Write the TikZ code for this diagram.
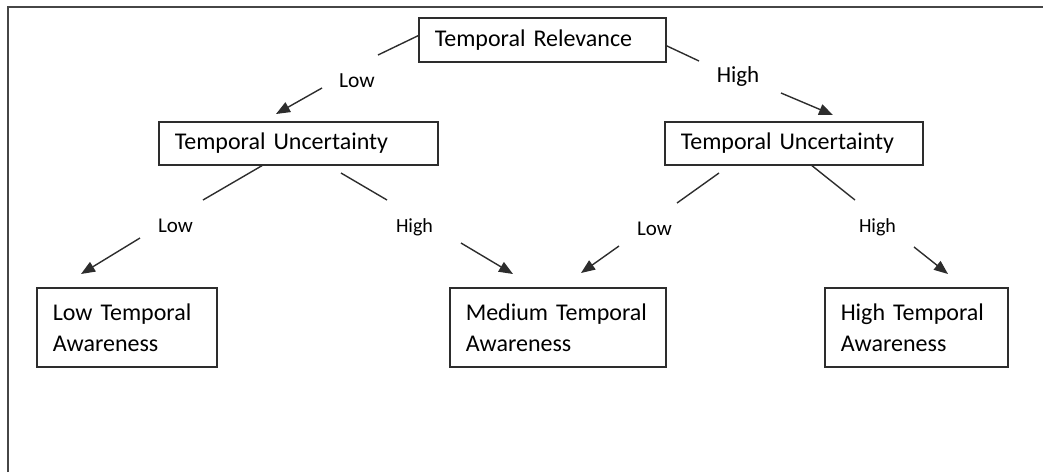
\documentclass[tikz,border=0pt]{standalone}
\usepackage{fontspec}
\setmainfont{Carlito}
\usetikzlibrary{arrows.meta}
\definecolor{lineGray}{RGB}{45, 45, 45}
\definecolor{frameGray}{RGB}{70, 70, 70}

\tikzset{
  box/.style={draw=lineGray, line width=1.5pt, anchor=north west, align=left,
    inner xsep=16pt, inner ysep=0pt, font=\fontsize{24}{31}\selectfont},
  lbl/.style={anchor=base, inner sep=0pt, font=\fontsize{21}{25}\selectfont},
  link/.style={draw=lineGray, line width=1.4pt},
  arrow/.style={link, -{Triangle[length=14pt, width=11pt]}}
}

\begin{document}
\begin{tikzpicture}[x=1pt, y=-1pt]
        \useasboundingbox (0,0) rectangle (1043,472);
        \draw[frameGray, line width=2pt] (8,472) -- (8,7) -- (1043,7);

        % boxes
        \node[box, text width=215pt, minimum height=44pt] (rel) at (418,17) {Temporal Relevance};
        \node[box, text width=247pt, minimum height=43pt] (uncLow) at (158,121) {Temporal Uncertainty};
        \node[box, text width=226pt, minimum height=43pt] (uncHigh) at (664,121) {Temporal Uncertainty};
        \node[box, text width=148pt, minimum height=79pt] (awLow) at (36,287) {Low Temporal\\Awareness};
        \node[box, text width=184pt, minimum height=79pt] (awMed) at (449,287) {Medium Temporal\\Awareness};
        \node[box, text width=151pt, minimum height=79pt] (awHigh) at (824,287) {High Temporal\\Awareness};

        % branch labels
        \node[lbl, font=\fontsize{21.5}{25}\selectfont] (relLow) at (357,87) {Low};
        \node[lbl, font=\fontsize{23}{27}\selectfont] (relHigh) at (738,82) {High};
        \node[lbl] (ulLow) at (175.5,232) {Low};
        \node[lbl, font=\fontsize{20}{24}\selectfont] (ulHigh) at (414.5,232) {High};
        \node[lbl] (uhLow) at (654.5,235) {Low};
        \node[lbl, font=\fontsize{20}{24}\selectfont] (uhHigh) at (877.5,232) {High};

        % break points of the connectors
        \coordinate (a1) at (378,55);  \coordinate (b1) at (322,88);  \coordinate (t1) at (276,114);
        \coordinate (a2) at (699,61);  \coordinate (b2) at (781,93);  \coordinate (t2) at (833,115);
        \coordinate (a3) at (203,200); \coordinate (b3) at (140,238); \coordinate (t3) at (81,274);
        \coordinate (s4) at (341,173); \coordinate (a4) at (387,200); \coordinate (b4) at (461,243); \coordinate (t4) at (513,274);
        \coordinate (s5) at (719,173); \coordinate (a5) at (677,203); \coordinate (b5) at (619,246); \coordinate (t5) at (581,273);
        \coordinate (a6) at (855,200); \coordinate (b6) at (914,247); \coordinate (t6) at (948,274);

        % connectors
        \draw[link] ([yshift=4pt]rel.west) -- (a1);
        \draw[arrow] (b1) -- (t1);
        \draw[link] ([yshift=-6pt]rel.east) -- (a2);
        \draw[arrow] (b2) -- (t2);
        \draw[link] ([xshift=-36pt]uncLow.south) -- (a3);
        \draw[arrow] (b3) -- (t3);
        \draw[link] (s4) -- (a4);
        \draw[arrow] (b4) -- (t4);
        \draw[link] (s5) -- (a5);
        \draw[arrow] (b5) -- (t5);
        \draw[link] ([xshift=18pt]uncHigh.south) -- (a6);
        \draw[arrow] (b6) -- (t6);
      \end{tikzpicture}
\end{document}
